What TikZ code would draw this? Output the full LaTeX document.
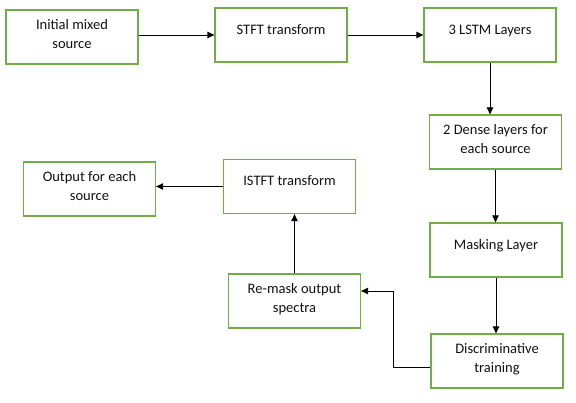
\documentclass[tikz,border=0pt]{standalone}
\usepackage{fontspec}
\setmainfont{Carlito}
\usetikzlibrary{arrows.meta}
\definecolor{boxgreen}{HTML}{70AD47}
\definecolor{textdark}{HTML}{111111}

\begin{document}
\begin{tikzpicture}[x=1pt, y=-1pt,
  font=\fontsize{14.5}{19}\selectfont,
  box/.style={draw=boxgreen, line width=1.3pt, minimum width=132pt,
    minimum height=54pt, inner sep=0pt, align=center, text=textdark},
  oneline/.style={text depth=11pt},
  twoline/.style={text depth=6pt},
  arr/.style={-{Triangle[length=7pt, width=6.5pt]}, line width=0.9pt}]
  \useasboundingbox (0,0) rectangle (576,403);

  % blocks
  \node[box, twoline] (init)   at (72,37)      {Initial mixed\\source};
  \node[box, oneline] (stft)   at (281,35)     {STFT transform};
  \node[box, oneline] (lstm)   at (490,35)     {3 LSTM Layers};
  \node[box, twoline] (dense)  at (495.5,142)  {2 Dense layers for\\each source};
  \node[box, oneline] (mask)   at (496,250)    {Masking Layer};
  \node[box, twoline] (disc)   at (497,361)    {Discriminative\\training};
  \node[box, twoline] (remask) at (294.5,301)  {Re-mask output\\spectra};
  \node[box, oneline] (istft)  at (289.5,186.5) {ISTFT transform};
  \node[box, twoline] (out)    at (89.5,189)   {Output for each\\source};

  % flow
  \draw[arr] (init.east |- stft.west) -- (stft.west);
  \draw[arr] (stft.east) -- (lstm.west);
  \draw[arr] (lstm.south) -- (lstm.south |- dense.north);
  \draw[arr] (dense.south) -- (dense.south |- mask.north);
  \draw[arr] (mask.south) -- (mask.south |- disc.north);
  \draw[arr] ([yshift=-6pt]disc.west) -- ++(-37,0) |- ([yshift=10pt]remask.east);
  \draw[arr] (remask.north) -- (remask.north |- istft.south);
  \draw[arr] (istft.west) -- (istft.west -| out.east);
\end{tikzpicture}
\end{document}
